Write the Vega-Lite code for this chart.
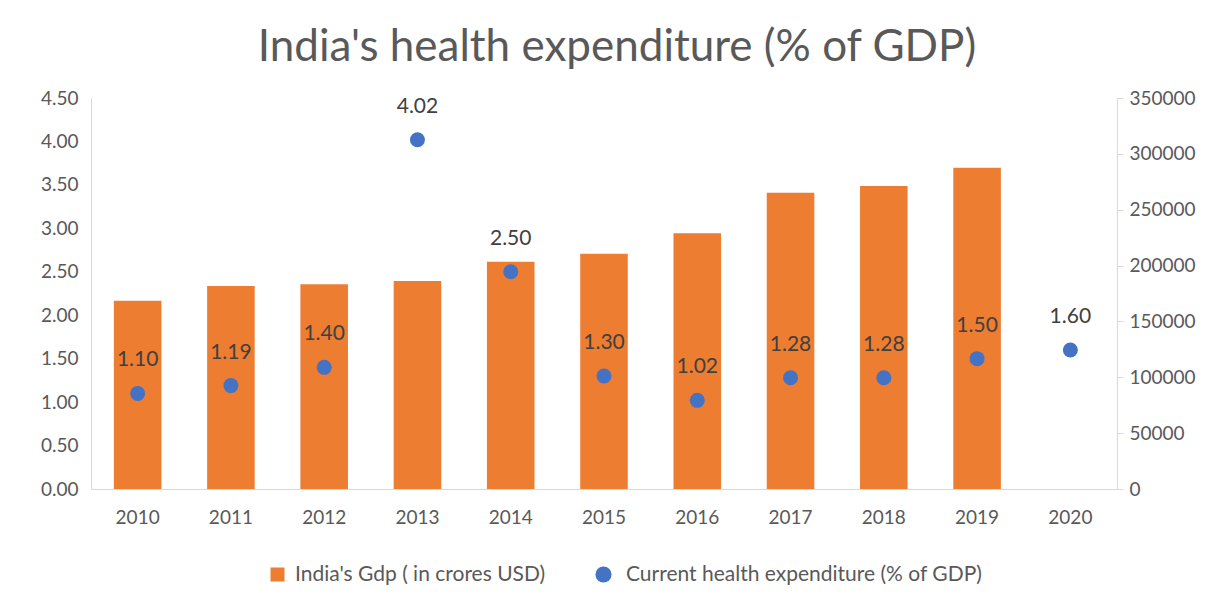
{
  "$schema": "https://vega.github.io/schema/vega-lite/v6.json",
  "width": 1026,
  "height": 391,
  "autosize": {"type": "none"},
  "padding": {"left": 91, "top": 98, "right": 98, "bottom": 114},
  "background": "white",
  "config": {
    "view": {"stroke": null},
    "font": "Lato",
    "axis": {"labelFont": "Lato", "labelColor": "#595959", "labelFontSize": 19, "domainColor": "#d9d9d9", "grid": false},
    "legend": {"labelFont": "Lato", "labelFontSize": 21, "labelColor": "#595959", "labelLimit": 0}
  },
  "title": {"text": "India's health expenditure (% of GDP)", "fontSize": 44, "font": "Lato", "fontWeight": "normal", "color": "#595959", "anchor": "middle", "dx": 13, "offset": 19},
  "data": {
    "values": [
      {"year": "2010", "gdp": 168600, "che": 1.10},
      {"year": "2011", "gdp": 181700, "che": 1.19},
      {"year": "2012", "gdp": 183200, "che": 1.40},
      {"year": "2013", "gdp": 186200, "che": 4.02},
      {"year": "2014", "gdp": 203500, "che": 2.50},
      {"year": "2015", "gdp": 210600, "che": 1.30},
      {"year": "2016", "gdp": 228900, "che": 1.02},
      {"year": "2017", "gdp": 265200, "che": 1.28},
      {"year": "2018", "gdp": 271200, "che": 1.28},
      {"year": "2019", "gdp": 287600, "che": 1.50},
      {"year": "2020", "gdp": null, "che": 1.60}
    ]
  },
  "encoding": {
    "x": {
      "field": "year", "type": "ordinal",
      "scale": {"paddingInner": 0.49, "paddingOuter": 0.245},
      "axis": {"title": null, "labelAngle": 0, "ticks": false, "labelPadding": 19, "domainColor": "#d9d9d9"}
    }
  },
  "layer": [
    {
      "mark": {"type": "bar"},
      "encoding": {
        "y": {
          "field": "gdp", "type": "quantitative",
          "scale": {"domain": [0, 350000]},
          "axis": {"orient": "right", "title": null, "values": [0, 50000, 100000, 150000, 200000, 250000, 300000, 350000], "format": "d", "ticks": true, "tickSize": 6, "labelPadding": 6, "tickColor": "#d9d9d9"}
        },
        "fill": {
          "datum": "India's Gdp ( in  crores USD)",
          "scale": {"range": ["#ED7D31"]},
          "legend": {"title": null, "orient": "none", "legendX": 176, "legendY": 466, "symbolType": "square", "symbolSize": 196, "symbolStrokeWidth": 0, "labelOffset": 7, "labelLimit": 0}
        }
      }
    },
    {
      "encoding": {
        "y": {
          "field": "che", "type": "quantitative",
          "scale": {"domain": [0, 4.5]},
          "axis": {"orient": "left", "title": null, "values": [0, 0.5, 1, 1.5, 2, 2.5, 3, 3.5, 4, 4.5], "format": ".2f", "ticks": false, "labelPadding": 13}
        }
      },
      "layer": [
        {
          "mark": {"type": "circle", "size": 225, "opacity": 1},
          "encoding": {
            "fill": {
              "datum": "Current health expenditure (% of GDP)",
              "scale": {"range": ["#4472C4"]},
              "legend": {"title": null, "orient": "none", "legendX": 502, "legendY": 466, "symbolType": "circle", "symbolSize": 260, "symbolStrokeWidth": 0, "labelOffset": 12, "labelLimit": 0}
            }
          }
        },
        {
          "mark": {"type": "text", "dy": -33, "fontSize": 21, "color": "#404040", "font": "Lato"},
          "encoding": {"text": {"field": "che", "type": "quantitative", "format": ".2f"}}
        }
      ]
    }
  ],
  "resolve": {"scale": {"y": "independent", "fill": "independent"}}
}
